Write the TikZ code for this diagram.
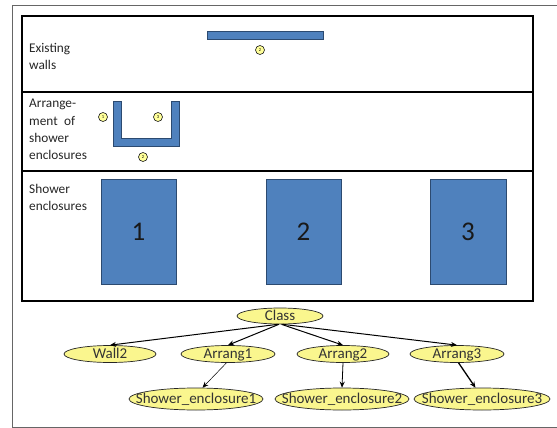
\documentclass[tikz,border=0pt]{standalone}
\usepackage{fontspec}
\setmainfont{Carlito}
\usetikzlibrary{shapes.geometric,arrows.meta}
\definecolor{wallblue}{HTML}{4F81BD}
\definecolor{walledge}{HTML}{2C4A70}
\definecolor{tagyellow}{HTML}{FFFF99}
\definecolor{ovalyellow}{HTML}{FAF68E}
\newcommand{\ovaltext}[1]{\makebox[0pt]{#1}}
\begin{document}
\begin{tikzpicture}[x=1pt,y=-1pt,
    wall/.style={fill=wallblue,draw=walledge,line width=0.7pt},
    tag/.style={circle,draw=black!90,fill=tagyellow,inner sep=0pt,minimum size=9pt,line width=0.6pt,
      font=\fontsize{4.5}{4.5}\selectfont},
    rowlabel/.style={anchor=north west,align=left,inner sep=0pt,text=black!85,
      font=\fontsize{13.3}{17.4}\selectfont},
    oval/.style={ellipse,draw=black!85,fill=ovalyellow,inner sep=0pt,line width=0.7pt,
      text height=9pt,text depth=1pt,font=\fontsize{15}{15}\selectfont,text=black!80},
    link/.style={-{Stealth[length=6pt,width=5pt]},line width=1pt}]
  \useasboundingbox (0,0) rectangle (557,428);
  \fill[white] (0,0) rectangle (557,428);
  \draw[black!60,line width=0.8pt] (557,5.5) -- (12.5,5.5) -- (12.5,427) -- (557,427);
  % the three rows
  \draw[line width=2.4pt] (22,16) rectangle (533,301);
  \draw[line width=1.8pt] (22,92) -- (533,92);
  \draw[line width=1.8pt] (22,171) -- (533,171);
  \node[rowlabel] (lwalls) at (29,43) {Existing\\walls};
  \node[rowlabel] (larr) at (29,99) {Arrange-\\\makebox[46pt][s]{ment of}\\shower\\enclosures};
  \node[rowlabel] (lencl) at (29,184) {Shower\\enclosures};
  % existing wall
  \draw[wall] (207,31) rectangle (323,39);
  \node[tag] (t0) at (260,50) {2};
  % arrangement
  \draw[wall] (113,101) -- (121,101) -- (121,138) -- (171,138) -- (171,101)
    -- (179,101) -- (179,146) -- (113,146) -- cycle;
  \node[tag] (t1) at (103,117) {1};
  \node[tag] (t3) at (158,117) {3};
  \node[tag] (t2) at (143,157) {2};
  % enclosures
  \draw[wall] (101,179) rectangle (176,284) node[midway,font=\fontsize{27}{27}\selectfont,text=black!90] (e1) {1};
  \draw[wall] (266,179) rectangle (341,284) node[midway,font=\fontsize{27}{27}\selectfont,text=black!90] (e2) {2};
  \draw[wall] (430,179) rectangle (506,284) node[midway,font=\fontsize{27}{27}\selectfont,text=black!90] (e3) {3};
  % class tree
  \node[oval,minimum width=86pt,minimum height=16pt] (cls) at (280,316) {\ovaltext{Class}};
  \node[oval,minimum width=92pt,minimum height=17pt] (wall2) at (110,354) {\ovaltext{Wall2}};
  \node[oval,minimum width=94pt,minimum height=17pt] (arr1) at (228,354) {\ovaltext{Arrang1}};
  \node[oval,minimum width=92pt,minimum height=17pt] (arr2) at (343,354) {\ovaltext{Arrang2}};
  \node[oval,minimum width=94pt,minimum height=17pt] (arr3) at (457,354) {\ovaltext{Arrang3}};
  \node[oval,minimum width=134pt,minimum height=22pt] (se1) at (196,399) {\ovaltext{Shower\_enclosure1}};
  \node[oval,minimum width=134pt,minimum height=22pt] (se2) at (342,399) {\ovaltext{Shower\_enclosure2}};
  \node[oval,minimum width=136pt,minimum height=22pt] (se3) at (482,399) {\ovaltext{Shower\_enclosure3}};
  \draw[link] (cls.255) -- (wall2.north);
  \draw[link] (cls.262) -- (arr1.north);
  \draw[link] (cls.280) -- (arr2.north);
  \draw[link] (cls.287) -- (arr3.north);
  \draw[link,line width=0.5pt] (arr1.-100) -- (se1.60);
  \draw[link,line width=0.8pt] (arr2.south) -- (se2.north);
  \draw[link,line width=1.3pt] (arr3.-80) -- (se3.120);
\end{tikzpicture}
\end{document}
